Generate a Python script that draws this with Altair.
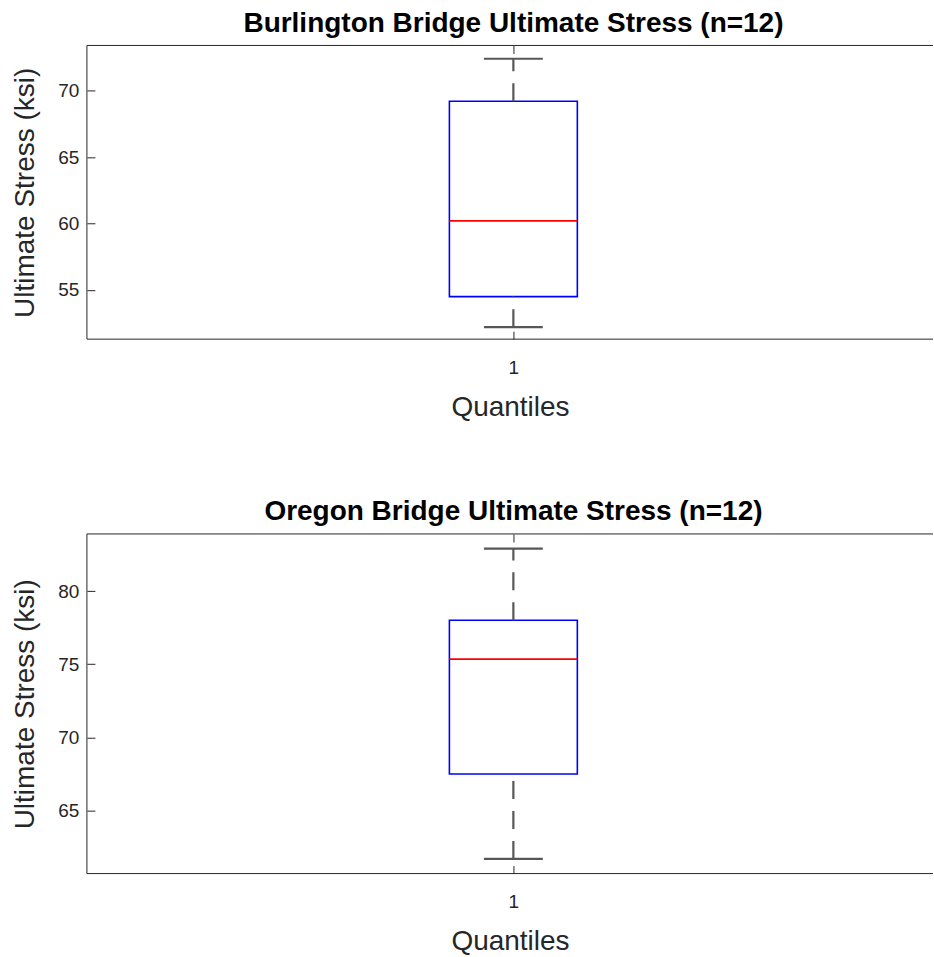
import altair as alt
import pandas as pd

# ---- data ----
bridges = ["Burlington", "Oregon"]
titles = ["Burlington Bridge Ultimate Stress (n=12)", "Oregon Bridge Ultimate Stress (n=12)"]
group_pos = [1, 1]
lower_whisker = [52.2, 61.7]
q1 = [54.5, 67.5]
median = [60.2, 75.35]
q3 = [69.2, 78.0]
upper_whisker = [72.4, 82.9]
y_domains = [[51.3, 73.4], [60.7, 83.9]]
y_ticks = [[55, 60, 65, 70], [65, 70, 75, 80]]
x_ticks = [1]

# ---- styling ----
FONT = "Liberation Sans"
TXT = "#262626"
W = 847
HEIGHTS = [294, 340]
X_DOMAIN = [0.5, 1.492]
BOX_HALF = 0.075
CAP_HALF = 0.0345
TICK = 8


def panel(i):
    df = pd.DataFrame({
        "bridge": [bridges[i]],
        "pos": [group_pos[i]],
        "lo": [lower_whisker[i]],
        "q1": [q1[i]],
        "med": [median[i]],
        "q3": [q3[i]],
        "hi": [upper_whisker[i]],
    })
    H = HEIGHTS[i]
    base = alt.Chart(df).transform_calculate(
        bl=f"datum.pos - {BOX_HALF}",
        br=f"datum.pos + {BOX_HALF}",
        cl=f"datum.pos - {CAP_HALF}",
        cr=f"datum.pos + {CAP_HALF}",
    )
    xs = alt.Scale(domain=X_DOMAIN, nice=False, zero=False)
    ys = alt.Scale(domain=y_domains[i], nice=False, zero=False)

    box = base.mark_rect(fill="white", stroke="#0000ff", strokeWidth=1.6).encode(
        x=alt.X("bl:Q", scale=xs, axis=alt.Axis(
            values=x_ticks, format="d", title="Quantiles", orient="bottom",
            offset=-TICK, tickSize=TICK, domain=False, grid=False,
            labelPadding=19, labelFontSize=19, labelFont=FONT, labelColor=TXT,
            tickColor=TXT, titleFont=FONT, titleFontSize=28, titleFontWeight="normal",
            titleColor=TXT, titlePadding=16)),
        x2="br:Q",
        y=alt.Y("q1:Q", scale=ys, axis=alt.Axis(
            values=y_ticks[i], format="d", title="Ultimate Stress (ksi)", orient="left",
            offset=-TICK, tickSize=TICK, domain=False, grid=False,
            labelPadding=8, labelFontSize=19, labelFont=FONT, labelColor=TXT,
            tickColor=TXT, titleFont=FONT, titleFontSize=28, titleFontWeight="normal",
            titleColor=TXT, titlePadding=18)),
        y2="q3:Q",
    )
    med = base.mark_rule(color="#ff0000", strokeWidth=1.6).encode(
        x=alt.X("bl:Q", scale=xs, axis=alt.Axis(
            values=x_ticks, orient="top", offset=-TICK, tickSize=TICK,
            domain=False, grid=False, labels=False, title=None, tickColor=TXT)),
        x2="br:Q",
        y=alt.Y("med:Q"),
    )

    wh_style = dict(color="#575757", strokeWidth=2.2, strokeDash=[18, 12])
    up_wh = base.mark_rule(**wh_style).encode(
        x=alt.X("pos:Q", axis=None), y=alt.Y("q3:Q"), y2="hi:Q")
    lo_wh = base.mark_rule(**wh_style).encode(
        x=alt.X("pos:Q", axis=None), y=alt.Y("lo:Q"), y2="q1:Q")
    cap_style = dict(color="#575757", strokeWidth=2.2)
    up_cap = base.mark_rule(**cap_style).encode(
        x=alt.X("cl:Q", axis=None), x2="cr:Q", y=alt.Y("hi:Q"))
    lo_cap = base.mark_rule(**cap_style).encode(
        x=alt.X("cl:Q", axis=None), x2="cr:Q", y=alt.Y("lo:Q"))

    border_l = base.mark_rule(color=TXT, strokeWidth=1).encode(
        x=alt.value(0), y=alt.value(0), y2=alt.value(H))
    border_t = base.mark_rule(color=TXT, strokeWidth=1).encode(
        x=alt.value(0), x2=alt.value(W), y=alt.value(0))
    border_b = base.mark_rule(color=TXT, strokeWidth=1).encode(
        x=alt.value(0), x2=alt.value(W), y=alt.value(H))

    return alt.layer(
        box, med, up_wh, lo_wh, up_cap, lo_cap, border_l, border_t, border_b
    ).resolve_axis(x="independent").properties(
        width=W, height=H,
        title=alt.TitleParams(
            titles[i], font=FONT, fontSize=28, fontWeight="bold", color="black",
            anchor="middle", frame="group", dx=3.5, offset=7),
    )


chart = alt.vconcat(panel(0), panel(1), spacing=77).properties(
    padding={"left": 11, "top": 9, "right": 0, "bottom": 0},
    background="white",
).configure_view(stroke="transparent", strokeWidth=0)

chart.save("out.html", embed_options={"renderer": "svg", "actions": False})
